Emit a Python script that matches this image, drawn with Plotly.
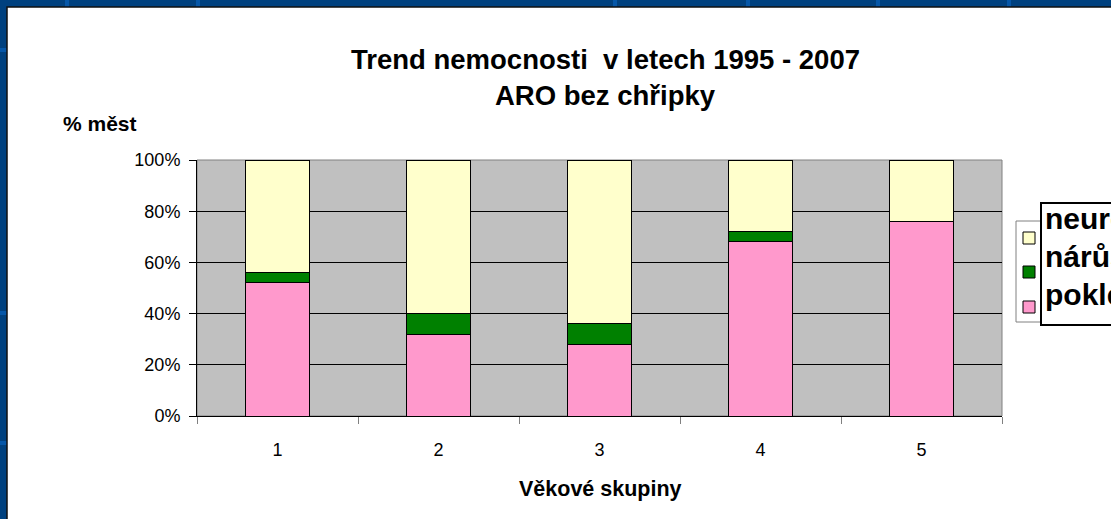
import plotly.graph_objects as go

# ---- data ----
categories = ["1", "2", "3", "4", "5"]
pokles = [52, 32, 28, 68, 76]
narust = [4, 8, 8, 4, 0]
neurcity = [44, 60, 64, 28, 24]
series_names = ["pokles", "nárůst", "neurčitý"]
series_colors = ["#FF99CC", "#008000", "#FFFFCC"]
y_ticks = [0, 20, 40, 60, 80, 100]
y_tick_text = [f"{v}%" for v in y_ticks]

title_line1 = "Trend nemocnosti&nbsp; v letech 1995 - 2007"
title_line2 = "ARO bez chřipky"
y_title = "% měst"
x_title = "Věkové skupiny"

W, H = 1111, 519
L, R, T, B = 197, 1002, 160, 416
FONT = "Liberation Sans, Arial, sans-serif"


def px(x):
    return (x - L) / (R - L)


def py(y):
    return (B - y) / (B - T)


fig = go.Figure()
for name, vals, col in zip(series_names, [pokles, narust, neurcity], series_colors):
    fig.add_trace(go.Bar(
        x=categories, y=vals, name=name,
        marker=dict(color=col, line=dict(color="#000000", width=1)),
        showlegend=False,
    ))

shapes = []
# slide background stripes (decoration)
for sx in [67, 198, 615, 748, 878, 1009]:
    shapes.append(dict(type="rect", xref="paper", yref="paper", layer="below",
                       x0=px(sx - 2), x1=px(sx + 2), y0=py(0), y1=py(7),
                       fillcolor="#0657a8", line=dict(width=0)))
for sy in [50, 313, 443]:
    shapes.append(dict(type="rect", xref="paper", yref="paper", layer="below",
                       x0=px(0), x1=px(7), y0=py(sy - 2), y1=py(sy + 2),
                       fillcolor="#0657a8", line=dict(width=0)))
# white chart area
shapes.append(dict(type="rect", xref="paper", yref="paper", layer="below",
                   x0=px(7), x1=px(1125), y0=py(7), y1=py(535),
                   fillcolor="#FFFFFF", line=dict(color="#111111", width=1.5)))
# grey plot area
shapes.append(dict(type="rect", xref="paper", yref="paper", layer="below",
                   x0=0, x1=1, y0=0, y1=1,
                   fillcolor="#C0C0C0", line=dict(width=0)))
# plot area grey border
shapes.append(dict(type="rect", xref="paper", yref="paper", layer="between",
                   x0=0, x1=1, y0=0, y1=1,
                   fillcolor="rgba(0,0,0,0)", line=dict(color="#808080", width=1)))

annotations = [
    dict(text="<b>" + title_line1 + "</b>", x=px(605), y=py(59), xref="paper", yref="paper",
         showarrow=False, xanchor="center", yanchor="middle",
         font=dict(family=FONT, size=27.5, color="#000000")),
    dict(text="<b>" + title_line2 + "</b>", x=px(605), y=py(95), xref="paper", yref="paper",
         showarrow=False, xanchor="center", yanchor="middle",
         font=dict(family=FONT, size=27.5, color="#000000")),
    dict(text="<b>" + y_title + "</b>", x=px(61), y=py(123), xref="paper", yref="paper",
         showarrow=False, xanchor="left", yanchor="middle",
         font=dict(family=FONT, size=21, color="#000000")),
    dict(text="<b>" + x_title + "</b>", x=px(600), y=py(489), xref="paper", yref="paper",
         showarrow=False, xanchor="center", yanchor="middle",
         font=dict(family=FONT, size=21.5, color="#000000")),
]

# legend: grey frame with markers, and a bordered text box
shapes.append(dict(type="rect", xref="paper", yref="paper", layer="above",
                   x0=px(1016), x1=px(1045), y0=py(221), y1=py(322),
                   fillcolor="#FFFFFF", line=dict(color="#808080", width=1)))
shapes.append(dict(type="rect", xref="paper", yref="paper", layer="above",
                   x0=px(1041), x1=px(1130), y0=py(203), y1=py(325),
                   fillcolor="#FFFFFF", line=dict(color="#000000", width=2)))
marker_y = [238, 272, 307]
text_y = [218, 256, 294]
legend_order = list(reversed(range(len(series_names))))
for k, i in enumerate(legend_order):
    shapes.append(dict(type="rect", xref="paper", yref="paper", layer="above",
                       x0=px(1023), x1=px(1035), y0=py(marker_y[k] - 6), y1=py(marker_y[k] + 6),
                       fillcolor=series_colors[i], line=dict(color="#000000", width=1)))
    annotations.append(dict(text="<b>" + series_names[i] + "</b>", x=px(1043), y=py(text_y[k]),
                            xref="paper", yref="paper", showarrow=False,
                            xanchor="left", yanchor="middle",
                            font=dict(family=FONT, size=30, color="#000000")))

fig.update_layout(
    width=W, height=H,
    margin=dict(l=L, r=W - R, t=T, b=H - B, pad=0),
    paper_bgcolor="#00417f",
    plot_bgcolor="#C0C0C0",
    barmode="stack",
    bargap=0.6,
    shapes=shapes,
    annotations=annotations,
    font=dict(family=FONT, size=18, color="#000000"),
)
fig.update_xaxes(
    type="category", categoryorder="array", categoryarray=categories,
    showline=True, linecolor="#000000", linewidth=1,
    ticks="outside", tickson="boundaries", ticklen=7, tickcolor="#808080",
    showgrid=False, ticklabelstandoff=17,
    tickfont=dict(family=FONT, size=18, color="#000000"),
    automargin=False,
)
fig.update_yaxes(
    range=[0, 100], tickmode="array", tickvals=y_ticks, ticktext=y_tick_text,
    showline=True, linecolor="#000000", linewidth=1,
    ticks="outside", ticklen=7, tickcolor="#000000",
    showgrid=True, gridcolor="#000000", gridwidth=1,
    zeroline=False, ticklabelstandoff=5,
    tickfont=dict(family=FONT, size=18, color="#000000"),
    automargin=False,
)

fig.write_html(
    "out.html",
    config={"displayModeBar": False},
    post_script="document.body.style.margin='0';document.body.style.overflow='hidden';",
)
